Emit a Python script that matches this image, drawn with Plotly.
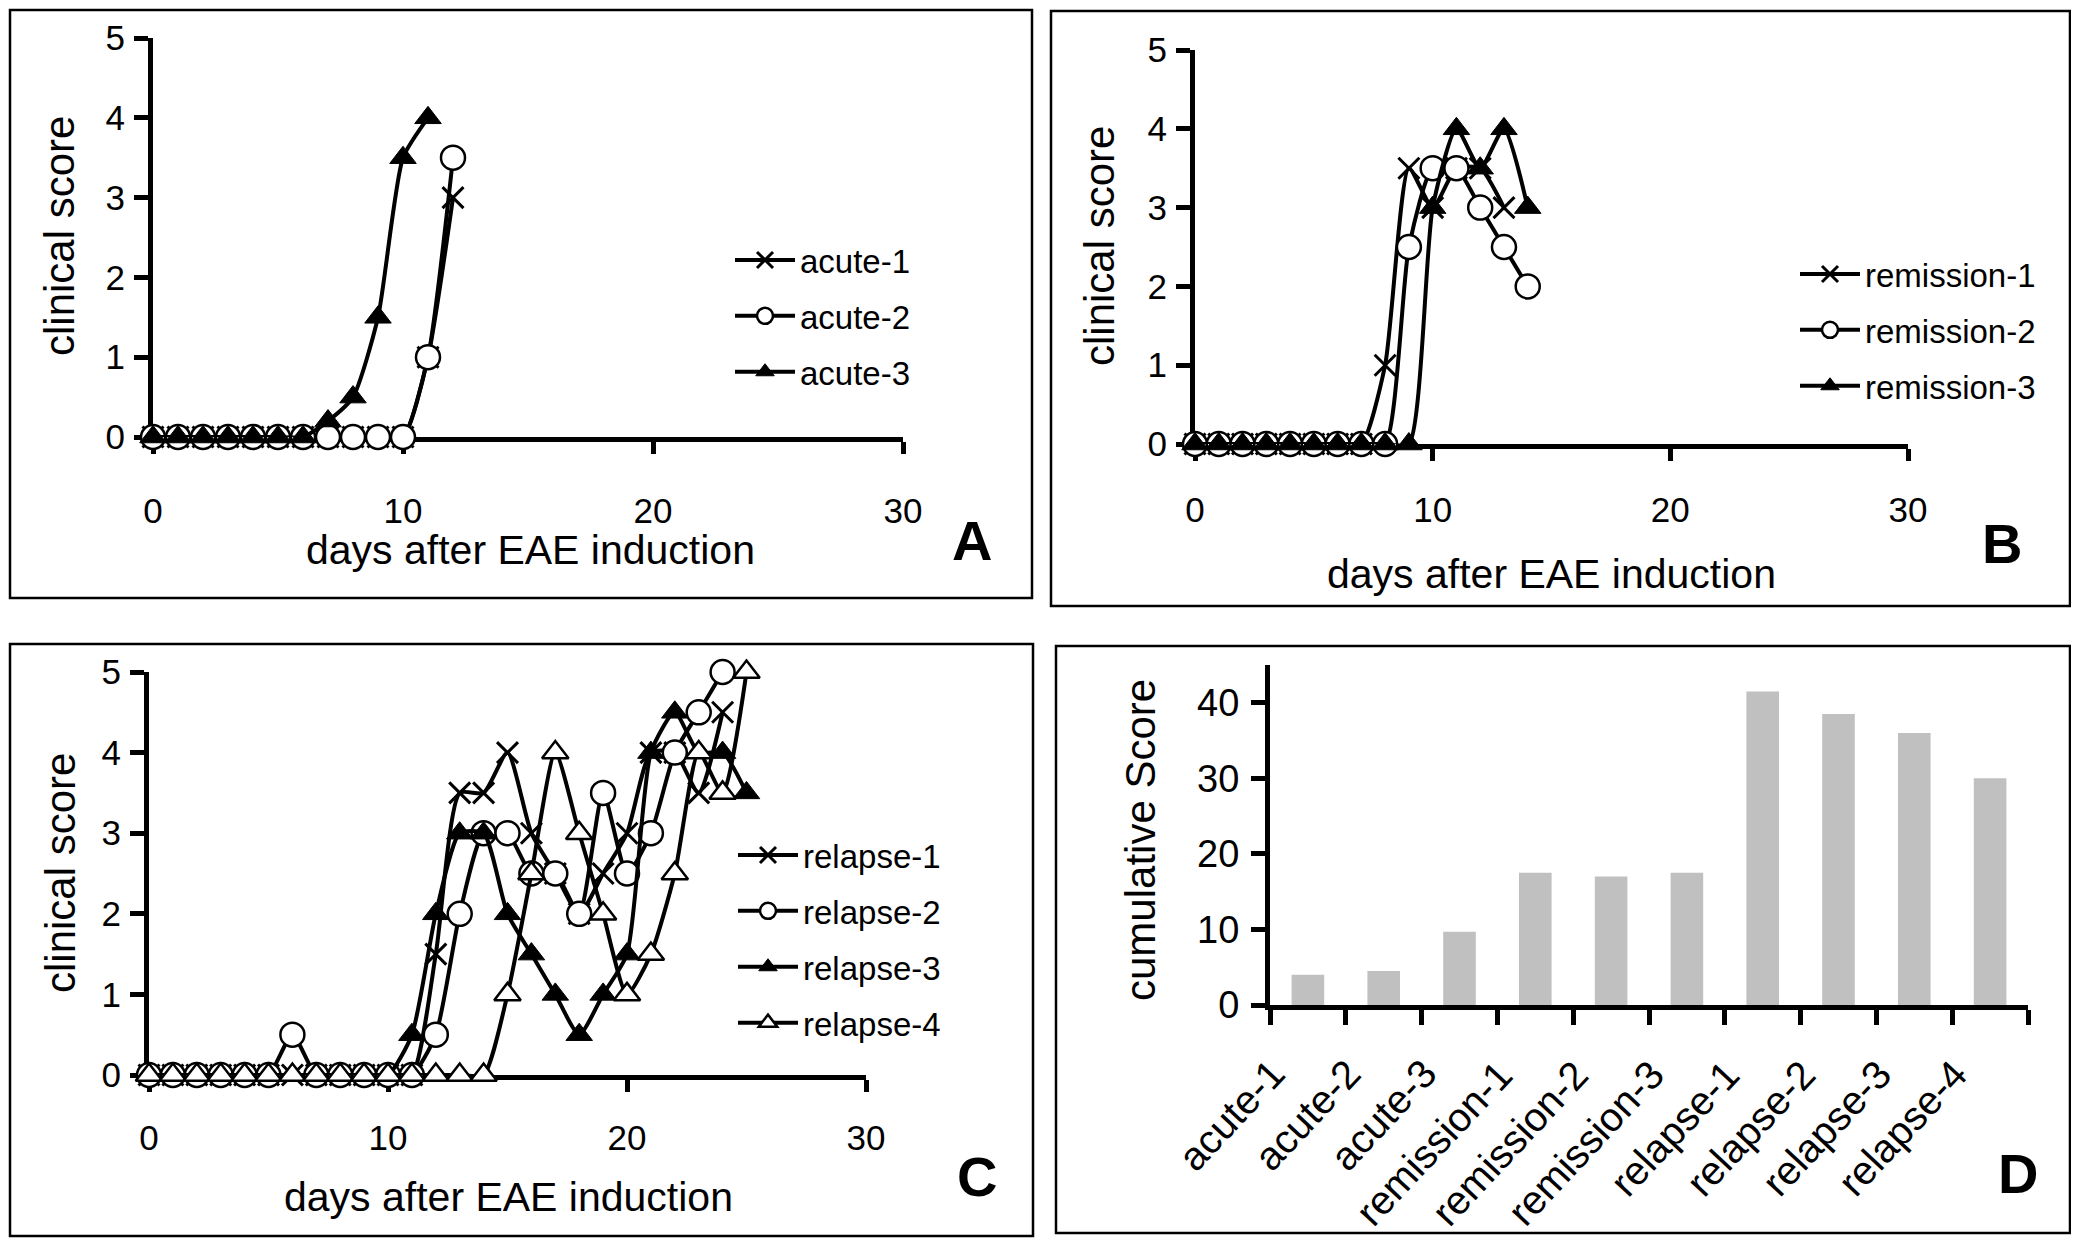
import plotly.graph_objects as go

# ---------------- data ----------------
days_a12 = [0, 1, 2, 3, 4, 5, 6, 7, 8, 9, 10, 11, 12]
days_a11 = [0, 1, 2, 3, 4, 5, 6, 7, 8, 9, 10, 11]
acute_1 = [0, 0, 0, 0, 0, 0, 0, 0, 0, 0, 0, 1, 3]
acute_2 = [0, 0, 0, 0, 0, 0, 0, 0, 0, 0, 0, 1, 3.5]
acute_3 = [0, 0, 0, 0, 0, 0, 0, 0.2, 0.5, 1.5, 3.5, 4]

days_b13 = [0, 1, 2, 3, 4, 5, 6, 7, 8, 9, 10, 11, 12, 13]
days_b14 = [0, 1, 2, 3, 4, 5, 6, 7, 8, 9, 10, 11, 12, 13, 14]
remission_1 = [0, 0, 0, 0, 0, 0, 0, 0, 1, 3.5, 3, 3.5, 3.5, 3]
remission_2 = [0, 0, 0, 0, 0, 0, 0, 0, 0, 2.5, 3.5, 3.5, 3, 2.5, 2]
remission_3 = [0, 0, 0, 0, 0, 0, 0, 0, 0, 0, 3, 4, 3.5, 4, 3]

days_c24 = [0, 1, 2, 3, 4, 5, 6, 7, 8, 9, 10, 11, 12, 13, 14, 15, 16, 17, 18, 19, 20, 21, 22, 23, 24]
days_c25 = [0, 1, 2, 3, 4, 5, 6, 7, 8, 9, 10, 11, 12, 13, 14, 15, 16, 17, 18, 19, 20, 21, 22, 23, 24, 25]
relapse_1 = [0, 0, 0, 0, 0, 0, 0, 0, 0, 0, 0, 0, 1.5, 3.5, 3.5, 4, 3, 2.5, 2, 2.5, 3, 4, 4, 3.5, 4.5]
relapse_2 = [0, 0, 0, 0, 0, 0, 0.5, 0, 0, 0, 0, 0, 0.5, 2, 3, 3, 2.5, 2.5, 2, 3.5, 2.5, 3, 4, 4.5, 5]
relapse_3 = [0, 0, 0, 0, 0, 0, 0, 0, 0, 0, 0, 0.5, 2, 3, 3, 2, 1.5, 1, 0.5, 1, 1.5, 4, 4.5, 4, 4, 3.5]
relapse_4 = [0, 0, 0, 0, 0, 0, 0, 0, 0, 0, 0, 0, 0, 0, 0, 1, 2.5, 4, 3, 2, 1, 1.5, 2.5, 4, 3.5, 5]

groups = ["acute-1", "acute-2", "acute-3", "remission-1", "remission-2", "remission-3",
          "relapse-1", "relapse-2", "relapse-3", "relapse-4"]
cumulative = [4, 4.5, 9.7, 17.5, 17, 17.5, 41.5, 38.5, 36, 30]

x_ticks = [0, 10, 20, 30]
y_ticks = [0, 1, 2, 3, 4, 5]
d_ticks = [0, 10, 20, 30, 40]

# ---------------- layout helpers ----------------
OFF = 8                      # default page margin of the html body
W, H = 2079 - OFF, 1240 - OFF
FONT = "Liberation Sans, Arial, sans-serif"


def fx(px):
    return (px - OFF) / W


def fy(py):
    return 1 - (py - OFF) / H


fig = go.Figure()

STYLES = {
    "x": dict(symbol="x-thin", size=21, color="black", line=dict(color="black", width=3)),
    "o": dict(symbol="circle", size=24, color="white", line=dict(color="black", width=2.5)),
    "t": dict(symbol="triangle-up", size=23, color="black", line=dict(color="black", width=1)),
    "to": dict(symbol="triangle-up", size=23, color="white", line=dict(color="black", width=2.5)),
}


def add_series(x, y, name, style, xa, ya, legend):
    fig.add_trace(go.Scatter(
        x=x, y=y, name=name, mode="lines+markers",
        line=dict(color="black", width=4, shape="spline", smoothing=0.6),
        marker=STYLES[style], xaxis=xa, yaxis=ya, legend=legend,
        legendgroup=name, cliponaxis=False, showlegend=True))


add_series(days_a12, acute_1, "acute-1", "x", "x", "y", "legend")
add_series(days_a12, acute_2, "acute-2", "o", "x", "y", "legend")
add_series(days_a11, acute_3, "acute-3", "t", "x", "y", "legend")

add_series(days_b13, remission_1, "remission-1", "x", "x2", "y2", "legend2")
add_series(days_b14, remission_2, "remission-2", "o", "x2", "y2", "legend2")
add_series(days_b14, remission_3, "remission-3", "t", "x2", "y2", "legend2")

add_series(days_c24, relapse_1, "relapse-1", "x", "x3", "y3", "legend3")
add_series(days_c24, relapse_2, "relapse-2", "o", "x3", "y3", "legend3")
add_series(days_c25, relapse_3, "relapse-3", "t", "x3", "y3", "legend3")
add_series(days_c25, relapse_4, "relapse-4", "to", "x3", "y3", "legend3")

fig.add_trace(go.Bar(x=groups, y=cumulative, marker=dict(color="#c0c0c0", line=dict(width=0)),
                     width=0.43, xaxis="x4", yaxis="y4", showlegend=False))

axis_common = dict(showline=True, linewidth=5, linecolor="black", ticks="outside",
                   tickwidth=5, tickcolor="black", showgrid=False, zeroline=False,
                   automargin=False,
                   tickfont=dict(family=FONT, size=35, color="black"), layer="below traces")


def xline(domain, anchor, standoff):
    return dict(axis_common, domain=domain, anchor=anchor, range=[0, 30],
                tickvals=x_ticks, ticklen=12, ticklabelstandoff=standoff)


def yline(domain, anchor):
    return dict(axis_common, domain=domain, anchor=anchor, range=[0, 5],
                tickvals=y_ticks, ticklen=14, ticklabelstandoff=2)


fig.update_layout(
    template="none",
    width=W, height=H, margin=dict(l=0, r=0, t=0, b=0, pad=0, autoexpand=False),
    paper_bgcolor="white", plot_bgcolor="white",
    font=dict(family=FONT, color="black"),
    xaxis=xline([fx(153), fx(903)], "y", 27),
    yaxis=yline([fy(437), fy(38)], "x"),
    xaxis2=xline([fx(1195), fx(1908)], "y2", 19),
    yaxis2=yline([fy(444), fy(50)], "x2"),
    xaxis3=xline([fx(149), fx(866)], "y3", 16),
    yaxis3=yline([fy(1075), fy(672)], "x3"),
    xaxis4=dict(axis_common, domain=[fx(1270), fx(2028)], anchor="y4", type="category",
                range=[-0.5, 9.5], autorange=False,
                tickson="boundaries", ticklen=15, showticklabels=False),
    yaxis4=dict(axis_common, domain=[fy(1005), fy(665)], anchor="x4", range=[0, 45],
                autorange=False, tickvals=d_ticks, ticklen=14, ticklabelstandoff=4,
                tickfont=dict(family=FONT, size=38, color="black")),
    bargap=0.57,
)

legend_common = dict(xanchor="left", yanchor="top", bgcolor="rgba(0,0,0,0)",
                     font=dict(family=FONT, size=33, color="black"), itemwidth=60,
                     tracegroupgap=10, traceorder="grouped", borderwidth=0)
fig.update_layout(
    legend=dict(legend_common, x=fx(730), y=fy(232)),
    legend2=dict(legend_common, x=fx(1795), y=fy(246)),
    legend3=dict(legend_common, x=fx(733), y=fy(827)),
)

# category labels of panel D, rotated, hung below the axis
for g in groups:
    fig.add_annotation(text=g, x=g, y=0, xref="x4", yref="y4", showarrow=False,
                       textangle=-47, xanchor="right", yanchor="top",
                       xshift=-12, yshift=-44,
                       font=dict(family=FONT, size=40, color="black"))

# panel frames
for (x0, y0, x1, y1) in [(10, 10, 1032, 598), (1051, 11, 2070, 606),
                         (10, 644, 1033, 1236), (1056, 646, 2070, 1233)]:
    fig.add_shape(type="rect", xref="paper", yref="paper", x0=fx(x0), x1=fx(x1),
                  y0=fy(y1), y1=fy(y0), line=dict(color="black", width=2.5))


def note(text, px, py, size, angle=0, bold=False):
    fig.add_annotation(text=f"<b>{text}</b>" if bold else text, x=fx(px), y=fy(py),
                       xref="paper", yref="paper", showarrow=False, textangle=angle,
                       xanchor="center", yanchor="middle",
                       font=dict(family=FONT, size=size, color="black"))


note("days after EAE induction", 530, 550, 41)
note("clinical score", 60, 236, 42, -90)
note("A", 972, 540, 56, bold=True)

note("days after EAE induction", 1551, 574, 41)
note("clinical score", 1100, 246, 42, -90)
note("B", 2002, 543, 56, bold=True)

note("days after EAE induction", 508, 1197, 41)
note("clinical score", 60, 873, 42, -90)
note("C", 977, 1176, 56, bold=True)

note("cumulative Score", 1140, 840, 42, -90)
note("D", 2018, 1173, 56, bold=True)

fig.write_html("out.html")
